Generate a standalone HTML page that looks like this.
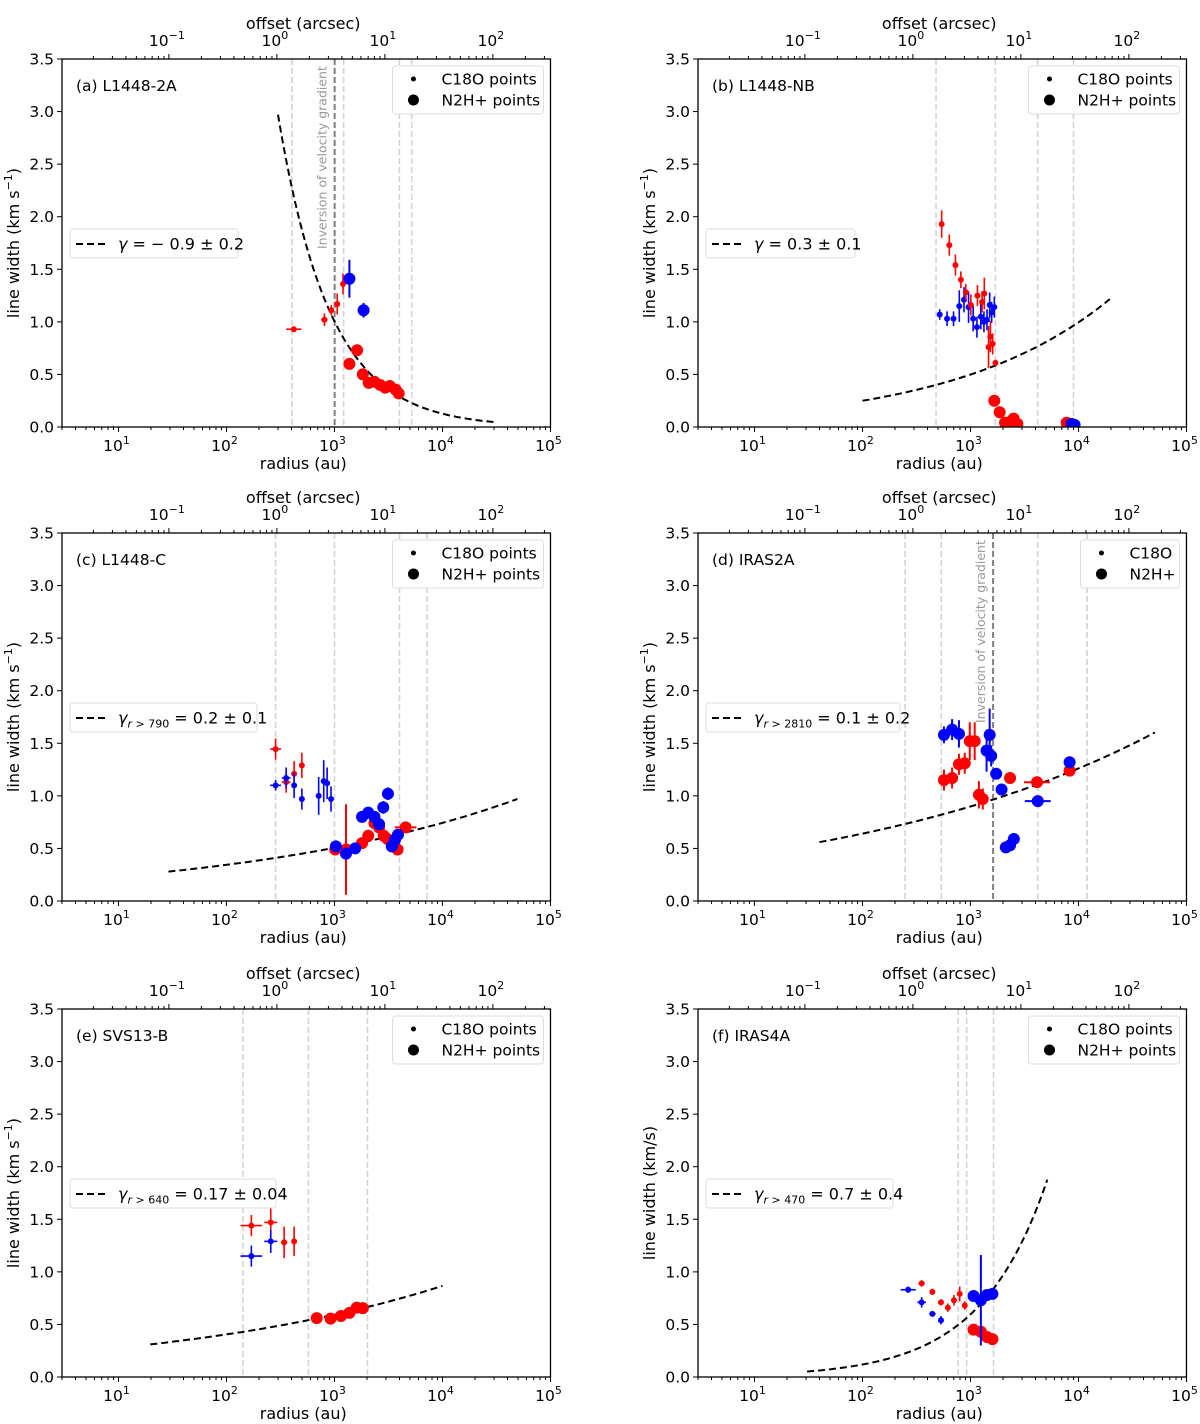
<!DOCTYPE html>
<html><head><meta charset="utf-8">
<style>
html,body{margin:0;padding:0;background:#fff;}
svg{display:block;font-family:"DejaVu Sans","Liberation Sans",sans-serif;}
</style></head>
<body>
<svg id="fig" width="1200" height="1424" viewBox="0 0 1200 1424" xmlns="http://www.w3.org/2000/svg"></svg>
<script>
// ---- Data (radius in au, line width in km/s) ----
// (a) L1448-2A
const a_cr_r=[420,807,935,1060,1200], a_cr_v=[0.93,1.02,1.11,1.17,1.36], a_cr_ye=[0.02,0.06,0.05,0.1,0.1], a_cr_xe=[0.07,0.03,0.02,0.02,0.02];
const a_nb_r=[1375,1860], a_nb_v=[1.41,1.11], a_nb_ye=[0.18,0.07];
const a_nr_r=[1375,1620,1830,2075,2345,2650,2950,3250,3680,3930], a_nr_v=[0.60,0.73,0.50,0.42,0.43,0.40,0.375,0.39,0.355,0.32];
const a_vl=[403,1217,3990,5190], a_dark=[1004];
// (b) L1448-NB
const b_cr_r=[541,637,726,815,906,1008,1160,1280,1343,1470,1530,1607,1703], b_cr_v=[1.93,1.73,1.54,1.40,1.28,1.16,1.25,1.19,1.27,0.76,0.86,0.79,0.61], b_cr_ye=[0.13,0.1,0.1,0.08,0.08,0.1,0.1,0.1,0.15,0.2,0.15,0.1,0.03];
const b_cb_r=[519,607,697,788,871,960,1059,1148,1247,1333,1423,1506,1570,1662], b_cb_v=[1.07,1.03,1.03,1.15,1.21,1.14,1.03,0.95,1.05,1.0,1.02,1.16,1.09,1.14], b_cb_ye=[0.05,0.07,0.07,0.15,0.12,0.15,0.12,0.1,0.12,0.1,0.1,0.12,0.1,0.1];
const b_nr_r=[1662,1863,2090,2330,2510,2720,7770], b_nr_v=[0.25,0.14,0.04,0.05,0.08,0.03,0.04], b_nr_xe=[0,0,0,0,0,0,0.05];
const b_nb_r=[8630,9200], b_nb_v=[0.03,0.02];
const b_vl=[480,1700,4190,9000];
// (c) L1448-C
const c_cr_r=[285,357,423,499], c_cr_v=[1.445,1.13,1.21,1.29], c_cr_ye=[0.1,0.1,0.12,0.12], c_cr_xe=[0.05,0.04,0.02,0.02];
const c_cb_r=[285,357,423,499,714,795,855,929], c_cb_v=[1.10,1.17,1.10,0.97,1.0,1.14,1.12,0.97], c_cb_ye=[0.05,0.1,0.12,0.1,0.18,0.2,0.15,0.12], c_cb_xe=[0.05,0.04,0.02,0.02,0,0,0,0];
const c_nr_r=[1016,1278,1800,2055,2345,2590,2855,3100,3840,4560], c_nr_v=[0.49,0.49,0.55,0.62,0.74,0.70,0.62,0.59,0.49,0.70], c_nr_ye=[0.03,0.43,0.03,0.03,0.03,0.03,0.03,0.03,0.03,0.03], c_nr_xe=[0,0,0,0,0,0,0,0,0,0.1];
const c_nb_r=[1030,1278,1555,1800,2055,2345,2590,2830,3125,3390,3630,3870], c_nb_v=[0.52,0.45,0.50,0.80,0.84,0.80,0.73,0.89,1.02,0.52,0.58,0.63], c_nb_ye=[0.03,0.03,0.03,0.03,0.03,0.03,0.04,0.06,0.06,0.03,0.03,0.05];
const c_vl=[285,1000,4000,7200];
// (d) IRAS2A
const d_nb_r=[568,676,782,1410,1506,1555,1730,1940,2125,2325,2520,4200,8280], d_nb_v=[1.58,1.63,1.59,1.43,1.58,1.38,1.21,1.06,0.51,0.53,0.59,0.95,1.32], d_nb_ye=[0.08,0.1,0.13,0.2,0.25,0.1,0.03,0.03,0.02,0.02,0.02,0.02,0.03], d_nb_xe=[0,0,0,0,0,0,0,0,0,0,0,0.12,0.05];
const d_nr_r=[568,676,782,885,985,1094,1197,1300,2325,4130,8280], d_nr_v=[1.15,1.17,1.30,1.31,1.52,1.52,1.01,0.97,1.17,1.13,1.24], d_nr_ye=[0.1,0.1,0.1,0.1,0.18,0.18,0.13,0.1,0.03,0.03,0.03], d_nr_xe=[0,0,0,0,0,0,0,0,0,0.12,0.04];
const d_vl=[248,537,4200,12000], d_dark=[1620];
// (e) SVS13-B
const e_cr_r=[170,257,342,423], e_cr_v=[1.44,1.47,1.28,1.29], e_cr_ye=[0.1,0.14,0.15,0.14], e_cr_xe=[0.1,0.06,0.03,0.02];
const e_cb_r=[170,257], e_cb_v=[1.15,1.29], e_cb_ye=[0.1,0.11], e_cb_xe=[0.1,0.06];
const e_nr_r=[685,920,1150,1376,1608,1832], e_nr_v=[0.56,0.555,0.58,0.61,0.66,0.655];
const e_vl=[142,573,2020];
// (f) IRAS4A
const f_cb_r=[265,353,444,533], f_cb_v=[0.83,0.71,0.60,0.54], f_cb_ye=[0.03,0.05,0.02,0.04], f_cb_xe=[0.07,0.04,0.03,0.02];
const f_cr_r=[353,444,533,617,703,795,885], f_cr_v=[0.89,0.81,0.71,0.66,0.73,0.79,0.68], f_cr_ye=[0.03,0.03,0.03,0.04,0.05,0.07,0.04], f_cr_xe=[0.03,0.02,0.02,0.01,0.01,0.01,0.01];
const f_nb_r=[1068,1248,1422,1596], f_nb_v=[0.77,0.73,0.78,0.79], f_nb_ye=[0.03,0.43,0.03,0.03];
const f_nr_r=[1068,1248,1422,1596], f_nr_v=[0.45,0.43,0.38,0.36];
const f_vl=[770,921,1636];
// fits: [r0, r1, v0, gamma]
const a_fit=[300,30000,2.97,-0.9], b_fit=[100,19500,0.25,0.3], c_fit=[29,49400,0.28,0.167], d_fit=[40,51000,0.56,0.147], e_fit=[19.7,10000,0.31,0.165], f_fit=[30.7,5150,0.052,0.7];
const yTicks=[0,0.5,1.0,1.5,2.0,2.5,3.0,3.5];
const xDecades=[1,2,3,4,5];
const topDecades=[-1,0,1,2];
const AU_PER_ARCSEC=293;

const NS="http://www.w3.org/2000/svg";
const svg=document.getElementById('fig');
function el(tag,attrs,parent){const e=document.createElementNS(NS,tag);for(const k in attrs)e.setAttribute(k,attrs[k]);(parent||svg).appendChild(e);return e;}
const RED="#ff0000", BLUE="#0000ff";
const XMIN=Math.log10(3), DEC=108, W=4.523*108, H=368;

function panel(cfg){
  const g=el('g',{});
  
  
  const L=cfg.left, T=cfg.top, B=T+H, R=L+W;
  const X=r=>L+(Math.log10(r)-XMIN)*DEC;
  const Y=v=>B-v*H/3.5;
  const clip='clip'+cfg.id;
  const cp=el('clipPath',{id:clip},g); el('rect',{x:L,y:T,width:W,height:H},cp);
  const plot=el('g',{'clip-path':'url(#'+clip+')'},g);
  
  
  // vertical lines
  cfg.vl.forEach(r=>{const l=el('line',{x1:X(r),x2:X(r),y1:T,y2:B,stroke:'#d3d3d3','stroke-width':1.6,'stroke-dasharray':'6,3'},plot);
    });
  (cfg.dark||[]).forEach(r=>{const l=el('line',{x1:X(r),x2:X(r),y1:T,y2:B,stroke:'#808080','stroke-width':2,'stroke-dasharray':'6,3'},plot);
    
    const tx=X(r)-8, ty=T+cfg.invY;
    const t=el('text',{x:tx,y:ty,transform:`rotate(-90 ${tx} ${ty})`,fill:'#999','font-size':12.5},plot);t.textContent='Inversion of velocity gradient';
    });
  // fit curve
  const [r0,r1,v0,gm]=cfg.fit; let pts=[];
  for(let i=0;i<=80;i++){const lr=Math.log10(r0)+(Math.log10(r1)-Math.log10(r0))*i/80;const r=Math.pow(10,lr);pts.push(X(r).toFixed(1)+','+Y(v0*Math.pow(r/r0,gm)).toFixed(1));}
  const fl=el('polyline',{points:pts.join(' '),fill:'none',stroke:'#000','stroke-width':2,'stroke-dasharray':'7,4'},plot);
  
  // series
  cfg.series.forEach(s=>{
    const sg=el('g',{},plot);
    
    
    s.r.forEach((r,i)=>{
      const x=X(r), y=Y(s.v[i]);
      const ye=s.ye?s.ye[i]:0.02, xe=s.xe?s.xe[i]:0;
      const lw=s.big?2:1.6;
      if(ye>0) el('line',{x1:x,x2:x,y1:Y(s.v[i]-ye),y2:Y(s.v[i]+ye),stroke:s.c,'stroke-width':lw},sg);
      if(xe>0) el('line',{x1:X(r/Math.pow(10,xe)),x2:X(r*Math.pow(10,xe)),y1:y,y2:y,stroke:s.c,'stroke-width':lw},sg);
      const m=el('circle',{cx:x,cy:y,r:s.big?6:3,fill:s.c},sg);
      
      
    });
  });
  // axes frame
  const fr=el('rect',{x:L,y:T,width:W,height:H,fill:'none',stroke:'#000','stroke-width':1.3},g);
  
  // y ticks
  yTicks.forEach(v=>{el('line',{x1:L-5,x2:L,y1:Y(v),y2:Y(v),stroke:'#000','stroke-width':1},g);
    const t=el('text',{x:L-8,y:Y(v)+5.5,'text-anchor':'end','font-size':15.5},g);t.textContent=v.toFixed(1);
    });
  // bottom x ticks
  for(let d=0;d<=5;d++){for(let k=1;k<10;k++){const lr=d+Math.log10(k);if(lr<XMIN-1e-6||lr>5+1e-6)continue;const x=L+(lr-XMIN)*DEC;
    el('line',{x1:x,x2:x,y1:B,y2:B+(k==1?5:3),stroke:'#000','stroke-width':1},g);}}
  xDecades.forEach(d=>{const x=L+(d-XMIN)*DEC;const t=el('text',{x:x-2,y:B+24,'text-anchor':'middle','font-size':15.5},g);
    t.innerHTML='10<tspan dy="-7" font-size="11">'+d+'</tspan>';
    });
  // top axis (arcsec)
  const off=Math.log10(AU_PER_ARCSEC);
  for(let d=-2;d<=3;d++){for(let k=1;k<10;k++){const la=d+Math.log10(k);const lr=la+off;if(lr<XMIN-1e-6||lr>5+1e-6)continue;const x=L+(lr-XMIN)*DEC;
    el('line',{x1:x,x2:x,y1:T,y2:T-(k==1?5:3),stroke:'#000','stroke-width':1},g);}}
  topDecades.forEach(d=>{const x=L+(d+off-XMIN)*DEC;const t=el('text',{x:x-2,y:T-13,'text-anchor':'middle','font-size':15.5},g);
    t.innerHTML='10<tspan dy="-7" font-size="11">'+(d<0?'\u2212'+(-d):d)+'</tspan>';
    });
  const tl=el('text',{x:L+W/2-3,y:T-30,'text-anchor':'middle','font-size':16},g);tl.textContent='offset (arcsec)';
  
  const xl=el('text',{x:L+W/2-3,y:B+42,'text-anchor':'middle','font-size':16},g);xl.textContent='radius (au)';
  
  const yx=L-43, yy=T+H/2;
  const yl=el('text',{x:yx,y:yy,'text-anchor':'middle','font-size':16,transform:`rotate(-90 ${yx} ${yy})`},g);
  yl.innerHTML=cfg.kms?'line width (km/s)':'line width (km s<tspan dy="-7" font-size="11">\u22121</tspan><tspan dy="7">)</tspan>';
  
  // panel title
  const pt=el('text',{x:L+14,y:T+32,'font-size':15.5},g);pt.textContent=cfg.title;
  
  // marker legend
  const lg=el('g',{},g);
  const lx=R-cfg.legW-7;
  el('rect',{x:lx,y:T+7,width:cfg.legW,height:48,rx:3,fill:'#fff',stroke:'#ddd','stroke-width':1},lg);
  el('circle',{cx:lx+21,cy:T+20,r:2.5,fill:'#000'},lg);
  el('circle',{cx:lx+21,cy:T+41,r:5.5,fill:'#000'},lg);
  const t1=el('text',{x:lx+49,y:T+25.5,'font-size':15.5},lg);t1.textContent=cfg.leg1;
  const t2=el('text',{x:lx+49,y:T+46.5,'font-size':15.5},lg);t2.textContent=cfg.leg2;
  // fit legend
  const fg=el('g',{},g);
  el('rect',{x:L+8,y:T+170,width:cfg.fitW,height:29,rx:3,fill:'#fff',stroke:'#ddd','stroke-width':1},fg);
  el('line',{x1:L+14,x2:L+43,y1:T+185,y2:T+185,stroke:'#000','stroke-width':2,'stroke-dasharray':'7,4'},fg);
  const ft=el('text',{x:L+56,y:T+190.5,'font-size':16},fg);ft.innerHTML=cfg.fitText;
}

const LEFT=62, RIGHT=698, TOPS=[59,533,1009];
const sub=s=>'<tspan font-style="italic">γ</tspan><tspan dy="4" font-size="11" font-style="italic">r</tspan><tspan dy="0" font-size="11"> &gt; '+s+'</tspan><tspan dy="-4"> = ';
panel({id:'a',left:LEFT,top:TOPS[0],title:'(a) L1448-2A',vl:a_vl,dark:a_dark,invY:190,fit:a_fit,legW:151,leg1:'C18O points',leg2:'N2H+ points',fitW:168,
  fitText:'<tspan font-style="italic">γ</tspan> = − 0.9 ± 0.2',
  series:[{name:'c18o-red',r:a_cr_r,v:a_cr_v,ye:a_cr_ye,xe:a_cr_xe,c:RED},{name:'n2h-blue',r:a_nb_r,v:a_nb_v,ye:a_nb_ye,c:BLUE,big:1},{name:'n2h-red',r:a_nr_r,v:a_nr_v,c:RED,big:1}]});
panel({id:'b',left:RIGHT,top:TOPS[0],title:'(b) L1448-NB',vl:b_vl,fit:b_fit,legW:151,leg1:'C18O points',leg2:'N2H+ points',fitW:149,
  fitText:'<tspan font-style="italic">γ</tspan> = 0.3 ± 0.1',
  series:[{name:'c18o-blue',r:b_cb_r,v:b_cb_v,ye:b_cb_ye,c:BLUE},{name:'c18o-red',r:b_cr_r,v:b_cr_v,ye:b_cr_ye,c:RED},{name:'n2h-red',r:b_nr_r,v:b_nr_v,xe:b_nr_xe,c:RED,big:1},{name:'n2h-blue',r:b_nb_r,v:b_nb_v,c:BLUE,big:1}]});
panel({id:'c',left:LEFT,top:TOPS[1],title:'(c) L1448-C',vl:c_vl,fit:c_fit,legW:151,leg1:'C18O points',leg2:'N2H+ points',fitW:187,
  fitText:sub('790')+'0.2 ± 0.1</tspan>',
  series:[{name:'c18o-red',r:c_cr_r,v:c_cr_v,ye:c_cr_ye,xe:c_cr_xe,c:RED},{name:'c18o-blue',r:c_cb_r,v:c_cb_v,ye:c_cb_ye,xe:c_cb_xe,c:BLUE},{name:'n2h-red',r:c_nr_r,v:c_nr_v,ye:c_nr_ye,xe:c_nr_xe,c:RED,big:1},{name:'n2h-blue',r:c_nb_r,v:c_nb_v,ye:c_nb_ye,c:BLUE,big:1}]});
panel({id:'d',left:RIGHT,top:TOPS[1],title:'(d) IRAS2A',vl:d_vl,dark:d_dark,invY:190,fit:d_fit,legW:99,leg1:'C18O',leg2:'N2H+',fitW:194,
  fitText:sub('2810')+'0.1 ± 0.2</tspan>',
  series:[{name:'n2h-red',r:d_nr_r,v:d_nr_v,ye:d_nr_ye,xe:d_nr_xe,c:RED,big:1},{name:'n2h-blue',r:d_nb_r,v:d_nb_v,ye:d_nb_ye,xe:d_nb_xe,c:BLUE,big:1}]});
panel({id:'e',left:LEFT,top:TOPS[2],title:'(e) SVS13-B',vl:e_vl,fit:e_fit,legW:151,leg1:'C18O points',leg2:'N2H+ points',fitW:206,
  fitText:sub('640')+'0.17 ± 0.04</tspan>',
  series:[{name:'c18o-red',r:e_cr_r,v:e_cr_v,ye:e_cr_ye,xe:e_cr_xe,c:RED},{name:'c18o-blue',r:e_cb_r,v:e_cb_v,ye:e_cb_ye,xe:e_cb_xe,c:BLUE},{name:'n2h-red',r:e_nr_r,v:e_nr_v,c:RED,big:1}]});
panel({id:'f',left:RIGHT,top:TOPS[2],title:'(f) IRAS4A',vl:f_vl,fit:f_fit,legW:151,leg1:'C18O points',leg2:'N2H+ points',fitW:187,kms:1,
  fitText:sub('470')+'0.7 ± 0.4</tspan>',
  series:[{name:'c18o-blue',r:f_cb_r,v:f_cb_v,ye:f_cb_ye,xe:f_cb_xe,c:BLUE},{name:'c18o-red',r:f_cr_r,v:f_cr_v,ye:f_cr_ye,xe:f_cr_xe,c:RED},{name:'n2h-red',r:f_nr_r,v:f_nr_v,c:RED,big:1},{name:'n2h-blue',r:f_nb_r,v:f_nb_v,ye:f_nb_ye,c:BLUE,big:1}]});
</script>
</body></html>
